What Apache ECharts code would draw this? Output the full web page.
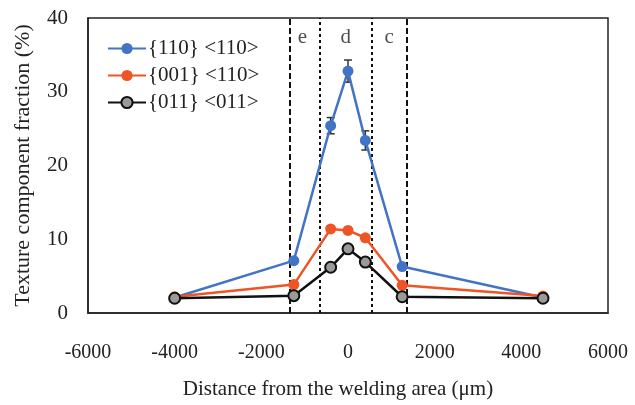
<!DOCTYPE html>
<html>
<head>
<meta charset="utf-8">
<script src="https://cdn.jsdelivr.net/npm/echarts@6/dist/echarts.min.js"></script>
<style>
  html, body { margin: 0; padding: 0; background: #fff; }
  #chart { width: 635px; height: 405px; }
</style>
</head>
<body>
<div id="chart"></div>
<script>
// Distance from the weld centre (µm)
const distances = [-4000, -1250, -400, 0, 400, 1250, 4500];

// Texture component fractions (%)
const frac110_110 = [2.1, 7.1, 25.4, 32.8, 23.4, 6.3, 2.1];
const frac001_110 = [2.2, 3.85, 11.4, 11.2, 10.2, 3.75, 2.3];
const frac011_011 = [2.0, 2.35, 6.2, 8.7, 6.9, 2.2, 2.0];

// Standard deviations (%)
const err110_110 = [0, 0, 1.1, 1.5, 1.3, 0, 0];
const err001_110 = [0, 0, 0.4, 0.4, 0.4, 0, 0];

const seriesNames = ['{110} <110>', '{001} <110>', '{011} <011>'];

// Zone boundaries (µm)
const zoneOuter = [-1350, 1350];
const zoneInner = [-650, 550];
// Zone letters
const zoneLabels = ['e', 'd', 'c'];
const zoneLabelX = [-1050, -50, 950];
const zoneLabelY = 37.4;

const xTicks = { min: -6000, max: 6000, interval: 2000 };
const yTicks = { min: 0, max: 40, interval: 10 };

const FONT = '"Liberation Serif", "DejaVu Serif", serif';
const BLUE = '#4274C6';
const ORANGE = '#EF5425';
const BLACK = '#111111';

function pairs(ys) { return distances.map((x, i) => [x, ys[i]]); }

function errorSeries(ys, errs, color) {
  const data = distances.map((x, i) => [x, ys[i], errs[i]]).filter(d => d[2] > 0);
  return {
    type: 'custom',
    silent: true,
    z: 4,
    data: data,
    renderItem: function (params, api) {
      const x = api.value(0), y = api.value(1), e = api.value(2);
      const hi = api.coord([x, y + e]);
      const lo = api.coord([x, y - e]);
      const cap = 4;
      const style = { stroke: color === BLUE ? '#333' : color, lineWidth: 1.5 };
      return {
        type: 'group',
        children: [
          { type: 'line', shape: { x1: hi[0], y1: hi[1], x2: lo[0], y2: lo[1] }, style },
          { type: 'line', shape: { x1: hi[0] - cap, y1: hi[1], x2: hi[0] + cap, y2: hi[1] }, style },
          { type: 'line', shape: { x1: lo[0] - cap, y1: lo[1], x2: lo[0] + cap, y2: lo[1] }, style }
        ]
      };
    }
  };
}

function lineSeries(name, ys, color, markerFill) {
  return {
    name: name,
    type: 'line',
    data: pairs(ys),
    symbol: 'circle',
    symbolSize: 11,
    z: 5,
    lineStyle: { color: color, width: 2.5 },
    itemStyle: { color: markerFill, borderColor: color, borderWidth: markerFill === color ? 0 : 2 },
    emphasis: { disabled: true }
  };
}

const vLines = [];
zoneOuter.forEach(x => vLines.push({ xAxis: x, lineStyle: { type: [6, 3], width: 2, color: '#111' } }));
zoneInner.forEach(x => vLines.push({ xAxis: x, lineStyle: { type: [3, 3], width: 2, color: '#111' } }));

const chart = echarts.init(document.getElementById('chart'), null, { renderer: 'canvas' });
chart.setOption({
  animation: false,
  backgroundColor: '#fff',
  textStyle: { fontFamily: FONT },
  grid: {
    left: 88, right: 27, top: 18, bottom: 92,
    show: true, borderColor: '#222', borderWidth: 1.5, backgroundColor: 'transparent'
  },
  legend: {
    data: seriesNames,
    orient: 'vertical',
    left: 102, top: 33,
    itemWidth: 38, itemHeight: 14, itemGap: 6,
    textStyle: { fontFamily: FONT, fontSize: 21, color: '#222', padding: [0, 0, 0, -3] }
  },
  xAxis: {
    type: 'value',
    min: xTicks.min, max: xTicks.max, interval: xTicks.interval,
    name: 'Distance from the welding area (μm)',
    nameLocation: 'middle', nameGap: 66,
    nameTextStyle: { fontFamily: FONT, fontSize: 21, color: '#222', padding: [0, 20, 0, 0] },
    axisLine: { show: true, onZero: false, lineStyle: { color: '#222', width: 1.5 } },
    axisTick: { show: false },
    splitLine: { show: false },
    axisLabel: { fontFamily: FONT, fontSize: 20, color: '#222', margin: 30, formatter: v => String(v) }
  },
  yAxis: {
    type: 'value',
    min: yTicks.min, max: yTicks.max, interval: yTicks.interval,
    name: 'Texture component fraction (%)',
    nameLocation: 'middle', nameGap: 54,
    nameTextStyle: { fontFamily: FONT, fontSize: 22, color: '#222' },
    axisLine: { show: true, onZero: false, lineStyle: { color: '#222', width: 1.5 } },
    axisTick: { show: false },
    splitLine: { show: false },
    axisLabel: { fontFamily: FONT, fontSize: 21, color: '#222', margin: 20 }
  },
  series: [
    Object.assign(lineSeries(seriesNames[0], frac110_110, BLUE, BLUE), {
      markLine: { silent: true, symbol: 'none', label: { show: false }, data: vLines, z: 2 }
    }),
    lineSeries(seriesNames[1], frac001_110, ORANGE, ORANGE),
    lineSeries(seriesNames[2], frac011_011, BLACK, '#9a9a9a'),
    errorSeries(frac110_110, err110_110, BLUE),
    errorSeries(frac001_110, err001_110, ORANGE),
    {
      type: 'scatter',
      silent: true,
      symbolSize: 0,
      data: zoneLabels.map((t, i) => ({ value: [zoneLabelX[i], zoneLabelY], name: t })),
      label: {
        show: true, position: 'inside', formatter: p => p.name,
        fontFamily: FONT, fontSize: 21, color: '#222'
      }
    }
  ]
});
</script>
</body>
</html>
